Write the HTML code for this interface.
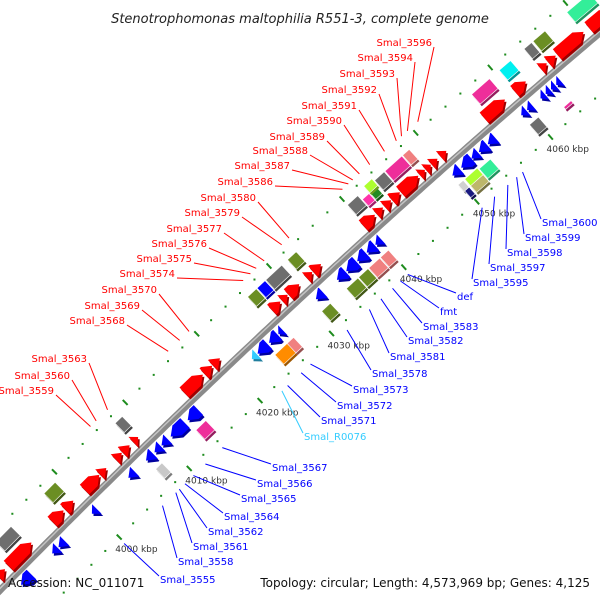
<!DOCTYPE html>
<html><head><meta charset="utf-8"><style>
html,body{margin:0;padding:0;background:#fff;width:600px;height:600px;overflow:hidden;}
svg{display:block;}
text{font-family:"DejaVu Sans","Liberation Sans",sans-serif;}
</style></head><body>
<svg id="map" width="600" height="600" viewBox="0 0 600 600" xmlns="http://www.w3.org/2000/svg">
<rect width="600" height="600" fill="#fff"/>
<g id="ticks"></g>
<g id="backbone"></g>
<g id="genes"></g>
<g id="labels"></g>
<text x="300" y="23" text-anchor="middle" font-size="13" font-style="italic" fill="#222">Stenotrophomonas maltophilia R551-3, complete genome</text>
<text x="8" y="587" font-size="12" fill="#111">Accession: NC_011071</text>
<text x="590" y="587" text-anchor="end" font-size="12" fill="#111">Topology: circular; Length: 4,573,969 bp; Genes: 4,125</text>
</svg>
<script>
// ---- data (kbp) ----
const fwdStart=[3988.5,3990.0,3996.3,3998.1,4000.9,4003.1,4005.3,4006.3,4007.8,4015.0,4017.8,4019.0,4027.2,4028.6,4029.5,4032.0,4032.9,4039.8,4041.6,4042.7,4043.7,4044.9,4047.5,4048.3,4049.1,4050.3,4056.2,4060.3,4063.8,4064.8,4066.0,4070.2];
const fwdEnd  =[3989.5,3993.3,3997.9,3999.3,4003.0,4004.0,4006.2,4007.3,4008.5,4017.6,4018.9,4020.0,4028.4,4029.4,4031.0,4032.8,4034.0,4041.4,4042.5,4043.6,4044.8,4047.3,4048.2,4049.0,4049.9,4051.1,4059.0,4061.8,4064.6,4065.8,4069.5,4073.0];
const revStart=[3989.5,3994.0,3994.9,3999.7,4004.9,4007.4,4008.6,4009.6,4010.9,4013.3,4023.1,4024.7,4026.0,4031.2,4034.1,4035.4,4036.9,4038.2,4039.4,4049.9,4051.1,4052.5,4053.5,4054.7,4059.2,4060.0,4061.8,4062.5,4063.2,4063.9];
const revEnd  =[3991.0,3994.8,3995.8,4000.4,4005.8,4008.4,4009.5,4010.5,4012.9,4014.8,4024.5,4025.9,4026.6,4032.2,4035.3,4036.8,4038.1,4039.3,4040.2,4050.9,4052.5,4053.4,4054.6,4055.7,4059.9,4060.7,4062.4,4063.1,4063.8,4064.5];
const rnaStart=[4022.3];
const rnaEnd=[4023.0];
const catStart=[3990.8,3997.7,4007.8,4026.3,4027.6,4028.8,4031.8,4040.0,4041.5,4042.5,4042.5,4043.7,4045.1,4047.5,4056.8,4060.5,4063.8,4065.0,4069.5,
  4007.5,4013.2,4024.3,4026.0,4030.8,4034.2,4035.9,4037.3,4038.9,4049.7,4049.8,4050.6,4050.6,4052.4,4059.2,4063.0];
const catEnd  =[3993.0,3999.3,4008.8,4027.5,4028.7,4031.0,4033.0,4041.4,4042.4,4043.4,4043.6,4045.0,4047.4,4048.4,4059.2,4062.0,4064.8,4066.6,4072.5,
  4008.4,4014.6,4026.0,4026.9,4032.0,4035.8,4037.2,4038.8,4040.0,4050.4,4050.4,4052.3,4052.3,4053.9,4060.4,4064.0];
const catSide =[1,1,1,1,1,1,1,1,1,1,1,1,1,1,1,1,1,1,1,
  -1,-1,-1,-1,-1,-1,-1,-1,-1,-1,-1,-1,-1,-1,-1,-1];
const catRow  =[2,2,2,2,2,2,2,2,0,0,1,2,2,2,2,2,2,2,2,
  2,2,2,2,2,2,2,2,2,0,1,0,1,2,2,1];
const catColor=["#6e6e6e","#6b8e23","#6e6e6e","#6b8e23","#0000ff","#6e6e6e","#6b8e23","#6e6e6e","#ff33aa","#228b22","#adff2f","#6e6e6e","#ee2e9a","#f08080","#ee2e9a","#00f0f0","#6e6e6e","#6b8e23","#33ee99",
  "#c8c8c8","#ee2e9a","#ff8c00","#f08080","#6b8e23","#6b8e23","#6b8e23","#f08080","#f08080","#d0d0d0","#1a1a80","#adff2f","#bdb76b","#33ee99","#6e6e6e","#ee2e9a"];
const tickKbp=[3990,4000,4010,4020,4030,4040,4050,4060,4070];
const tickLabels=["3990 kbp","4000 kbp","4010 kbp","4020 kbp","4030 kbp","4040 kbp","4050 kbp","4060 kbp","4070 kbp"];
const fwdLabelNames=["Smal_3596","Smal_3594","Smal_3593","Smal_3592","Smal_3591","Smal_3590","Smal_3589","Smal_3588","Smal_3587","Smal_3586","Smal_3580","Smal_3579","Smal_3577","Smal_3576","Smal_3575","Smal_3574","Smal_3570","Smal_3569","Smal_3568","Smal_3563","Smal_3560","Smal_3559"];
const fwdLabelKbp=[4050.9,4049.5,4048.7,4048.0,4046.4,4044.4,4043.0,4042.1,4041.5,4040.7,4033.4,4032.4,4030.0,4028.9,4028.1,4027.1,4019.6,4018.3,4016.7,4008.2,4006.6,4005.8];
const fwdLabelX=[432,413,395,377,357,342,325,308,290,273,256,240,222,207,192,175,157,140,125,87,70,54];
const fwdLabelY=[42,57,73,89,105,120,136,150,165,181,197,212,228,243,258,273,289,305,320,358,375,390];
const revLabelNames=["Smal_3600","Smal_3599","Smal_3598","Smal_3597","Smal_3595","def","fmt","Smal_3583","Smal_3582","Smal_3581","Smal_3578","Smal_3573","Smal_3572","Smal_3571","Smal_R0076","Smal_3567","Smal_3566","Smal_3565","Smal_3564","Smal_3562","Smal_3561","Smal_3558","Smal_3555"];
const revLabelKbp=[4055.5,4054.7,4053.5,4051.7,4050.0,4039.8,4038.8,4037.7,4036.1,4034.5,4031.4,4026.3,4025.0,4023.1,4022.3,4013.9,4011.5,4009.8,4008.6,4007.8,4007.3,4005.4,3999.9];
const revLabelX=[542,525,507,490,473,457,440,423,408,390,372,353,337,321,304,272,257,241,224,208,193,178,160];
const revLabelY=[222,237,252,267,282,296,311,326,340,356,373,389,405,420,436,467,483,498,516,531,546,561,579];

// ---- geometry ----
const R=8926, CX=6370, CY=6843, TH0=-132.85*Math.PI/180, DTH=0.0011046;
function pos(k,r){const t=TH0+(k-4030)*DTH;return [CX+(R+r)*Math.cos(t),CY+(R+r)*Math.sin(t)];}
const NS="http://www.w3.org/2000/svg";
function mk(tag,attrs,parent){const e=document.createElementNS(NS,tag);for(const a in attrs)e.setAttribute(a,attrs[a]);parent.appendChild(e);return e;}
function ptsStr(list){return list.map(p=>{const q=pos(p[0],p[1]);return q[0].toFixed(1)+","+q[1].toFixed(1);}).join(" ");}
function arcPath(k0,k1,r){let d="";for(let k=k0;k<=k1+1e-9;k+=0.5){const p=pos(k,r);d+=(d?"L":"M")+p[0].toFixed(1)+","+p[1].toFixed(1);}return d;}
function shade(c){const n=parseInt(c.slice(1),16);const f=0.62;return "rgb("+Math.round((n>>16&255)*f)+","+Math.round((n>>8&255)*f)+","+Math.round((n&255)*f)+")";}

const gT=document.getElementById("ticks"),gB=document.getElementById("backbone"),gG=document.getElementById("genes"),gL=document.getElementById("labels");

// tick rings
[45,-47].forEach(function(rr){
  for(let k=3986;k<=4076;k+=2){
    if(k%10===0){
      const a=pos(k,rr-3.5),b=pos(k,rr+3.5);
      const ln=mk("line",{x1:a[0],y1:a[1],x2:b[0],y2:b[1],stroke:"#1e8c1e","stroke-width":2},gT);
      
      
    } else {
      const p=pos(k,rr);
      const d=mk("rect",{x:p[0]-1,y:p[1]-1,width:2,height:2,fill:"#1e8c1e"},gT);
      
      
    }
  }
});
tickKbp.forEach(function(k,i){
  const p=pos(k,-47);
  const t=mk("text",{x:p[0]-4,y:p[1]+15,"font-size":9,fill:"#333"},gT);
  t.textContent=tickLabels[i];
  
  
});

// backbone
const bb1=mk("path",{d:arcPath(3984,4076,0),stroke:"#8a8a8a","stroke-width":7,fill:"none"},gB);


const bb2=mk("path",{d:arcPath(3984,4076,1.3),stroke:"#c4c4c4","stroke-width":1.5,fill:"none"},gB);



function drawShape(pts,color,name,stroke){
  const sh=mk("polygon",{points:ptsStr(pts),fill:shade(color),transform:"translate(1.6,2.2)"},gG);
  
  
  const m=mk("polygon",{points:ptsStr(pts),fill:color},gG);
  if(stroke){m.setAttribute("stroke","#fff");m.setAttribute("stroke-width","0.6");}
  
  
}
function arrow(k0,k1,r0,r1,dir){
  const h=Math.min(k1-k0,0.9),m=(r0+r1)/2;
  if(dir>0)return [[k0,r0],[k1-h,r0],[k1,m],[k1-h,r1],[k0,r1]];
  return [[k1,r0],[k0+h,r0],[k0,m],[k0+h,r1],[k1,r1]];
}
// categories
const rowR=[[22,31],[31,40],[24,37]];
catStart.forEach(function(s,i){
  const rr=rowR[catRow[i]],sd=catSide[i];
  let r0=rr[0]*sd,r1=rr[1]*sd;
  if(i===catStart.length-1){r0=-33;r1=-36;}
  drawShape([[s,r0],[catEnd[i],r0],[catEnd[i],r1],[s,r1]],catColor[i],"category-box",true);
});
// genes
fwdStart.forEach(function(s,i){drawShape(arrow(s,fwdEnd[i],4.5,18,1),"#ff0000","forward-gene");});
revStart.forEach(function(s,i){drawShape(arrow(s,revEnd[i],-18,-4.5,-1),"#0000ff","reverse-gene");});
rnaStart.forEach(function(s,i){drawShape(arrow(s,rnaEnd[i],-18,-4.5,-1),"#33ccff","trna-gene");});

// labels
fwdLabelNames.forEach(function(n,i){
  const e=pos(fwdLabelKbp[i],52);
  const l=mk("line",{x1:fwdLabelX[i]+2,y1:fwdLabelY[i]+5,x2:e[0],y2:e[1],stroke:"#ff0000","stroke-width":1},gL);
  
  
  const t=mk("text",{x:fwdLabelX[i],y:fwdLabelY[i]+4,"text-anchor":"end","font-size":10,fill:"#ff0000"},gL);
  t.textContent=n;
  
  
});
revLabelNames.forEach(function(n,i){
  const c=n==="Smal_R0076"?"#33ccff":"#0000ff";
  const e=pos(revLabelKbp[i],-55);
  const l=mk("line",{x1:revLabelX[i]-1,y1:revLabelY[i]-3,x2:e[0],y2:e[1],stroke:c,"stroke-width":1},gL);
  
  
  const t=mk("text",{x:revLabelX[i],y:revLabelY[i]+4,"font-size":10,fill:c},gL);
  t.textContent=n;
  
  
});
</script>
</body></html>
